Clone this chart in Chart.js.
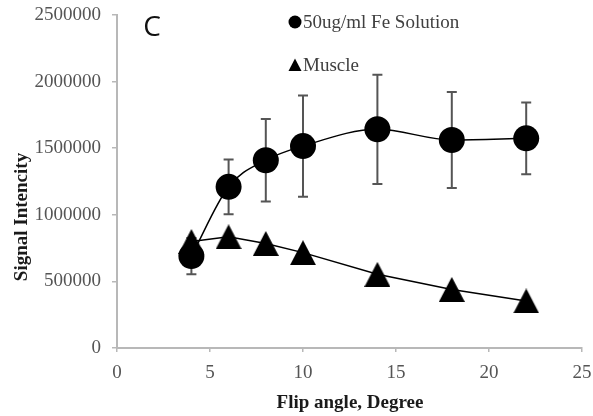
<!DOCTYPE html>
<html>
<head>
<meta charset="utf-8">
<script src="https://cdn.jsdelivr.net/npm/chart.js@4"></script>
<style>
html,body{margin:0;padding:0;background:#fff;}
#wrap{width:593px;height:416px;position:relative;}
</style>
</head>
<body>
<div id="wrap"><canvas id="c" width="593" height="416"></canvas></div>
<script>
// ---- data ----
const flipAngles = [4, 6, 8, 10, 14, 18, 22];
const feSignal = [690000, 1210000, 1410000, 1516000, 1642000, 1562000, 1574000];
const feError = [136000, 205000, 310000, 380000, 410000, 360000, 270000];
const muscleSignal = [800000, 835000, 785000, 716000, 553000, 440000, 353000];
const xTicks = [0, 5, 10, 15, 20, 25];
const yTicks = [0, 500000, 1000000, 1500000, 2000000, 2500000];
const seriesNames = ['50ug/ml Fe Solution', 'Muscle'];
const panelLabel = 'C';
const xTitle = 'Flip angle, Degree';
const yTitle = 'Signal Intencity';

// triangle marker image centred on the point (Excel-style)
function makeTriangle(w, h) {
  const cv = document.createElement('canvas');
  cv.width = w; cv.height = h;
  const g = cv.getContext('2d');
  g.fillStyle = '#000';
  g.beginPath();
  g.moveTo(w / 2, 0);
  g.lineTo(w, h);
  g.lineTo(0, h);
  g.closePath();
  g.fill();
  return cv;
}
const triBig = makeTriangle(26, 25);

const errorBars = {
  id: 'errorBars',
  beforeDatasetsDraw(chart) {
    const ctx = chart.ctx, xs = chart.scales.x, ys = chart.scales.y;
    ctx.save();
    ctx.strokeStyle = '#555';
    ctx.lineWidth = 2;
    flipAngles.forEach((a, i) => {
      const px = xs.getPixelForValue(a);
      const top = ys.getPixelForValue(feSignal[i] + feError[i]);
      const bot = ys.getPixelForValue(feSignal[i] - feError[i]);
      ctx.beginPath();
      ctx.moveTo(px, top); ctx.lineTo(px, bot);
      ctx.moveTo(px - 5, top); ctx.lineTo(px + 5, top);
      ctx.moveTo(px - 5, bot); ctx.lineTo(px + 5, bot);
      ctx.stroke();
    });
    ctx.restore();
  }
};

const annotations = {
  id: 'annotations',
  afterDraw(chart) {
    const ctx = chart.ctx;
    ctx.save();
    // panel label
    ctx.fillStyle = '#111';
    ctx.font = '28px "Open Sans"';
    ctx.textAlign = 'center';
    ctx.textBaseline = 'middle';
    ctx.fillText(panelLabel, 152, 28);
    // legend
    ctx.fillStyle = '#000';
    ctx.beginPath();
    ctx.arc(295, 22, 6.5, 0, Math.PI * 2);
    ctx.fill();
    ctx.beginPath();
    ctx.moveTo(295, 58.5); ctx.lineTo(301.5, 71); ctx.lineTo(288.5, 71);
    ctx.closePath(); ctx.fill();
    ctx.fillStyle = '#404040';
    ctx.font = '19px "Liberation Serif"';
    ctx.textAlign = 'left';
    ctx.fillText(seriesNames[0], 303, 23);
    ctx.fillText(seriesNames[1], 303, 66);
    // axis titles
    ctx.fillStyle = '#1a1a1a';
    ctx.font = 'bold 19px "Liberation Serif"';
    ctx.textAlign = 'center';
    ctx.fillText(xTitle, 350, 403);
    ctx.translate(22, 217);
    ctx.rotate(-Math.PI / 2);
    ctx.fillText(yTitle, 0, 0);
    ctx.restore();
  }
};

new Chart(document.getElementById('c'), {
  type: 'line',
  data: {
    datasets: [
      {
        label: seriesNames[0],
        data: flipAngles.map((a, i) => ({x: a, y: feSignal[i]})),
        borderColor: '#000',
        borderWidth: 1.5,
        backgroundColor: '#000',
        pointStyle: 'circle',
        pointRadius: 13,
        pointBorderWidth: 0,
        cubicInterpolationMode: 'monotone',
        fill: false
      },
      {
        label: seriesNames[1],
        data: flipAngles.map((a, i) => ({x: a, y: muscleSignal[i]})),
        borderColor: '#000',
        borderWidth: 1.5,
        backgroundColor: '#000',
        pointStyle: triBig,
        pointRadius: 13,
        tension: 0,
        cubicInterpolationMode: 'default',
        fill: false
      }
    ]
  },
  options: {
    responsive: false,
    animation: false,
    devicePixelRatio: 1,
    layout: {autoPadding: false, padding: {top: 15, right: 11, left: 0, bottom: 0}},
    plugins: {legend: {display: false}, tooltip: {enabled: false}},
    scales: {
      x: {
        type: 'linear',
        min: 0, max: 25,
        afterFit(s) { s.height = 68; s.paddingLeft = 0; s.paddingRight = 0; },
        afterBuildTicks(s) { s.ticks = xTicks.map(v => ({value: v})); },
        border: {display: true, color: '#b8b8b8', width: 2},
        grid: {drawOnChartArea: false, drawTicks: true, tickLength: 4, color: '#b8b8b8', lineWidth: 1.5},
        ticks: {padding: 10, color: '#555', font: {family: 'Liberation Serif', size: 19}, maxRotation: 0, autoSkip: false}
      },
      y: {
        min: 0, max: 2500000,
        afterFit(s) { s.width = 117; s.paddingTop = 0; s.paddingBottom = 0; },
        afterBuildTicks(s) { s.ticks = yTicks.map(v => ({value: v})); },
        border: {display: true, color: '#b8b8b8', width: 2},
        grid: {drawOnChartArea: false, drawTicks: true, tickLength: 5, color: '#b8b8b8', lineWidth: 1.5},
        ticks: {padding: 11, color: '#555', font: {family: 'Liberation Serif', size: 19}, autoSkip: false, callback: v => String(v)}
      }
    }
  },
  plugins: [errorBars, annotations]
});
</script>
</body>
</html>
